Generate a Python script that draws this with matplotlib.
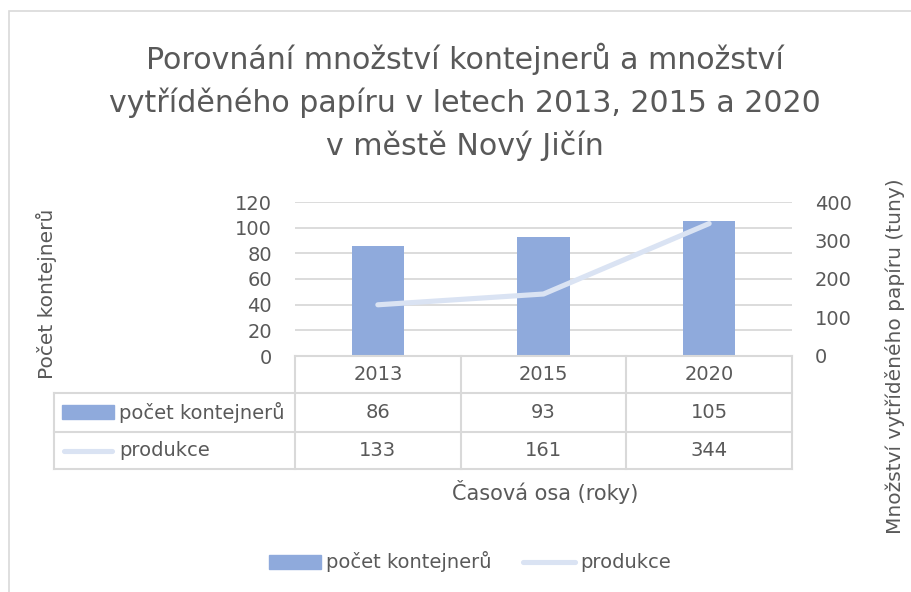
import matplotlib.pyplot as plt
import matplotlib.transforms as mtransforms
from matplotlib.patches import Patch, Rectangle
from matplotlib.lines import Line2D

plt.rcParams['font.family'] = ['DejaVu Sans']

roky = ['2013', '2015', '2020']
kontejnery = [86, 93, 105]
produkce = [133, 161, 344]
nazev_bar = 'počet kontejnerů'
nazev_line = 'produkce'

text_c = '#595959'
grid_c = '#D9D9D9'
bar_c = '#8FAADC'
line_c = '#DAE3F3'

W, H = 911, 592
fig = plt.figure(figsize=(W / 100, H / 100), dpi=100)


def box(x0, y0, x1, y1):
    return [x0 / W, 1 - y1 / H, (x1 - x0) / W, (y1 - y0) / H]


# ramecek grafu
fig.patches.append(Rectangle((9 / W, -0.1), 1.2, 1 - 11 / H + 0.1, transform=fig.transFigure,
                             fill=False, edgecolor='#D9D9D9', lw=1.2))

fig.text(465 / W, 1 - 102 / H,
         'Porovnání množství kontejnerů a množství\nvytříděného papíru v letech 2013, 2015 a 2020\nv městě Nový Jičín',
         ha='center', va='center', fontsize=21.6, color=text_c, linespacing=1.5)

px0, px1 = 295, 792
ax = fig.add_axes(box(px0, 202, px1, 356))
x = list(range(len(roky)))
ax.bar(x, kontejnery, width=0.315, color=bar_c, zorder=2)
ax.set_xlim(-0.5, len(roky) - 0.5)
ax.set_ylim(0, 120)
ax.set_yticks(range(0, 121, 20))
ax.grid(axis='y', color=grid_c, lw=1.3, zorder=0)
ax.set_xticks([])
for s in ax.spines.values():
    s.set_visible(False)
ax.tick_params(axis='y', length=0, labelsize=14, labelcolor=text_c, pad=16.5)

ax2 = ax.twinx()
ax2.plot(x, produkce, color=line_c, lw=3.7, solid_capstyle='round', zorder=3)
ax2.set_ylim(0, 400)
ax2.set_yticks(range(0, 401, 100))
for s in ax2.spines.values():
    s.set_visible(False)
ax2.tick_params(axis='y', length=0, labelsize=14, labelcolor=text_c, pad=16.5)

pw = px1 - px0
ph = 154.0
ax.set_ylabel('Počet kontejnerů', fontsize=14.5, color=text_c)
ax.yaxis.set_label_coords((57 - px0) / pw, (356 - 294) / ph)
ax2.set_ylabel('Množství vytříděného papíru (tuny)', fontsize=14.5, color=text_c, rotation=90)
ax2.yaxis.set_label_coords((885 - px0) / pw, 0.0)

# tabulka dat pod grafem
tr = mtransforms.blended_transform_factory(ax.transData, ax.transAxes)
cw = pw / 3.0
rows = [0, -37 / ph, -76 / ph, -113 / ph]
left = -0.5 - (px0 - 54) / cw
kw = dict(transform=tr, color=grid_c, lw=1.5, clip_on=False)
ax.add_line(Line2D([-0.5, 2.5], [rows[0]] * 2, **kw))
for r in rows[1:]:
    ax.add_line(Line2D([left, 2.5], [r] * 2, **kw))
for v in [-0.5, 0.5, 1.5, 2.5]:
    ax.add_line(Line2D([v, v], [rows[0], rows[3]], **kw))
ax.add_line(Line2D([left, left], [rows[1], rows[3]], **kw))

mid = [(rows[i] + rows[i + 1]) / 2 for i in range(3)]
for i, rok in enumerate(roky):
    ax.text(i, mid[0], rok, transform=tr, ha='center', va='center', fontsize=14, color=text_c)
    ax.text(i, mid[1], str(kontejnery[i]), transform=tr, ha='center', va='center', fontsize=14, color=text_c)
    ax.text(i, mid[2], str(produkce[i]), transform=tr, ha='center', va='center', fontsize=14, color=text_c)

kx0 = left + 8 / cw
kx1 = left + 60 / cw
ax.add_patch(Rectangle((kx0, mid[1] - 7 / ph), kx1 - kx0, 14 / ph, transform=tr,
                       color=bar_c, clip_on=False))
ax.add_line(Line2D([kx0 + 2 / cw, kx1 - 2 / cw], [mid[2]] * 2, transform=tr, color=line_c, lw=3.7,
                   solid_capstyle='round', clip_on=False))
ax.text(left + 65 / cw, mid[1], nazev_bar, transform=tr, ha='left', va='center', fontsize=14, color=text_c)
ax.text(left + 65 / cw, mid[2], nazev_line, transform=tr, ha='left', va='center', fontsize=14, color=text_c)

fig.text(545 / W, 1 - 492 / H, 'Časová osa (roky)', ha='center', va='center', fontsize=15, color=text_c)

handles = [Patch(color=bar_c), Line2D([], [], color=line_c, lw=3.7, solid_capstyle='round')]
fig.legend(handles, [nazev_bar, nazev_line], loc='center', bbox_to_anchor=(470 / W, 1 - 562 / H),
           ncol=2, frameon=False, fontsize=14, handlelength=2.7, handletextpad=0.25,
           columnspacing=1.6, labelcolor=text_c)

fig.savefig('out.png', dpi=100)
